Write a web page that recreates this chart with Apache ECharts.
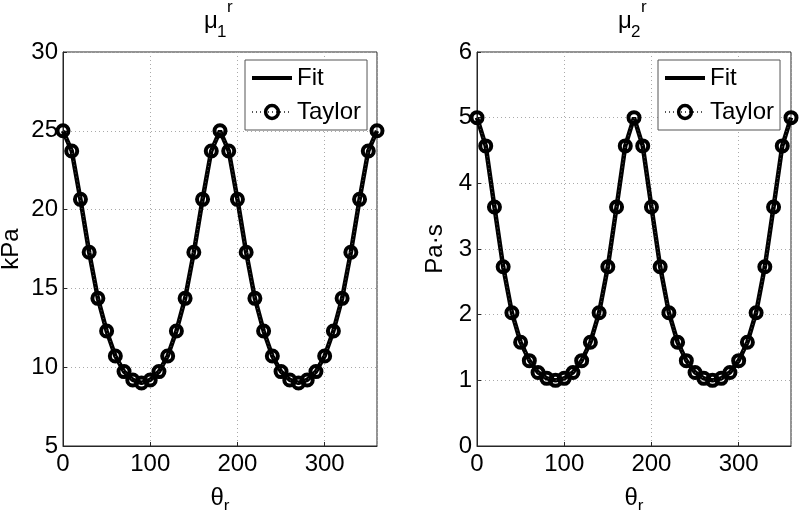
<!DOCTYPE html>
<html>
<head>
<meta charset="utf-8">
<script src="https://cdn.jsdelivr.net/npm/echarts@6/dist/echarts.min.js"></script>
<style>
html,body{margin:0;padding:0;background:#fff;}
#chart{width:800px;height:510px;}
</style>
</head>
<body>
<div id="chart"></div>
<script>
// theta_r sample points (degrees)
var thetaR = [0,10,20,30,40,50,60,70,80,90,100,110,120,130,140,150,160,170,180,
              190,200,210,220,230,240,250,260,270,280,290,300,310,320,330,340,350,360];
// mu_1^r (kPa)
var mu1 = [25,23.72,20.65,17.29,14.37,12.30,10.71,9.72,9.19,9.00,9.19,9.72,10.71,12.30,14.37,17.29,20.65,23.72,25,
           23.72,20.65,17.29,14.37,12.30,10.71,9.72,9.19,9.00,9.19,9.72,10.71,12.30,14.37,17.29,20.65,23.72,25];
// mu_2^r (Pa·s)
var mu2 = [5,4.57,3.64,2.73,2.03,1.58,1.30,1.12,1.03,1.00,1.03,1.12,1.30,1.58,2.03,2.73,3.64,4.57,5,
           4.57,3.64,2.73,2.03,1.58,1.30,1.12,1.03,1.00,1.03,1.12,1.30,1.58,2.03,2.73,3.64,4.57,5];
var xRange = [0,360], xStep = 100;
var y1Range = [5,30], y1Step = 5;
var y2Range = [0,6], y2Step = 1;
var legendNames = ['Fit','Taylor'];
var yNames = ['kPa','Pa·s'];
var titleBase = 'μ', titleSubs = ['1','2'], titleSup = 'r';

function pairs(ys){ return thetaR.map(function(t,i){ return [t, ys[i]]; }); }

var FONT = 'Liberation Sans';
var FS = 24;
var chart = echarts.init(document.getElementById('chart'), null, {renderer:'canvas'});

function nameRich(){
  return {
    m:{fontFamily:FONT,fontSize:FS,fontWeight:'normal',color:'#000',lineHeight:24},
    s:{fontFamily:FONT,fontSize:17,fontWeight:'normal',color:'#000',lineHeight:16,padding:[17,0,0,0]}
  };
}
function xAxis(gi){
  return {
    type:'value', gridIndex:gi, min:xRange[0], max:xRange[1], interval:xStep,
    axisLine:{show:true,lineStyle:{color:'#262626',width:1}},
    axisTick:{show:true,inside:true,length:4,lineStyle:{color:'#262626'}},
    axisLabel:{fontFamily:FONT,fontSize:FS,color:'#000',margin:6,showMaxLabel:false},
    splitLine:{show:true,lineStyle:{color:'#aaa',type:[1,3],width:1}},
    name:'{m|θ}{s|r}', nameLocation:'middle', nameGap:36,
    nameTextStyle:{rich:nameRich()}
  };
}
function yAxis(gi, rng, step, nm, gap){
  return {
    type:'value', gridIndex:gi, min:rng[0], max:rng[1], interval:step,
    axisLine:{show:true,lineStyle:{color:'#262626',width:1}},
    axisTick:{show:true,inside:true,length:4,lineStyle:{color:'#262626'}},
    axisLabel:{fontFamily:FONT,fontSize:FS,color:'#000',margin:5},
    splitLine:{show:true,lineStyle:{color:'#aaa',type:[1,3],width:1}},
    name:nm, nameLocation:'middle', nameGap:gap,
    nameTextStyle:{fontFamily:FONT,fontSize:FS,color:'#000'}
  };
}
function fitSeries(gi, ys){
  return {
    name:legendNames[0], type:'line', xAxisIndex:gi, yAxisIndex:gi,
    data:pairs(ys), showSymbol:false, symbol:'none', smooth:false,
    lineStyle:{color:'#000',width:4.5}, itemStyle:{color:'#000'},
    animation:false, z:2
  };
}
function taylorSeries(gi, ys){
  return {
    name:legendNames[1], type:'line', xAxisIndex:gi, yAxisIndex:gi,
    data:pairs(ys), symbol:'circle', symbolSize:11, showSymbol:true,
    lineStyle:{color:'#555',width:1,type:[1,3]},
    itemStyle:{color:'rgba(255,255,255,0)',borderColor:'#000',borderWidth:4},
    animation:false, z:3
  };
}
function legend(left){
  return {
    show:true, orient:'vertical', left:left, top:60,
    data:[{name:legendNames[0], icon:'path://M0,0L40,0L40,4L0,4Z'},
          {name:legendNames[1], itemStyle:{color:'rgba(255,255,255,0)',borderColor:'#000',borderWidth:3.5}}],
    itemWidth:40, itemHeight:16, itemGap:10,
    padding:[6,6,6,6], borderColor:'#555', borderWidth:1, backgroundColor:'#fff',
    textStyle:{fontFamily:FONT,fontSize:FS,color:'#000'}, selectedMode:false
  };
}
function titleTexts(cx, sub){
  // base glyph, subscript, superscript
  return [
    {type:'text', left:cx-15, top:9, z:10, style:{text:titleBase, font:'24px "'+FONT+'"', fill:'#000'}},
    {type:'text', left:cx-2, top:24, z:10, style:{text:sub, font:'17px "'+FONT+'"', fill:'#000'}},
    {type:'text', left:cx+8, top:-1, z:10, style:{text:titleSup, font:'17px "'+FONT+'"', fill:'#000'}}
  ];
}
function grid(left, right){
  return {left:left, right:right, top:52, bottom:64, show:true, borderColor:'#262626', borderWidth:1,
          backgroundColor:'#fff', containLabel:false, outerBoundsMode:'none'};
}

chart.setOption({
  backgroundColor:'#fff',
  animation:false,
  grid:[grid(63,423), grid(477,9)],
  legend:[legend(245), legend(658)],
  xAxis:[xAxis(0), xAxis(1)],
  yAxis:[yAxis(0,y1Range,y1Step,yNames[0],40), yAxis(1,y2Range,y2Step,yNames[1],30)],
  series:[fitSeries(0,mu1), taylorSeries(0,mu1), fitSeries(1,mu2), taylorSeries(1,mu2)],
  graphic: titleTexts(219, titleSubs[0]).concat(titleTexts(633, titleSubs[1]))
});
</script>
</body>
</html>
